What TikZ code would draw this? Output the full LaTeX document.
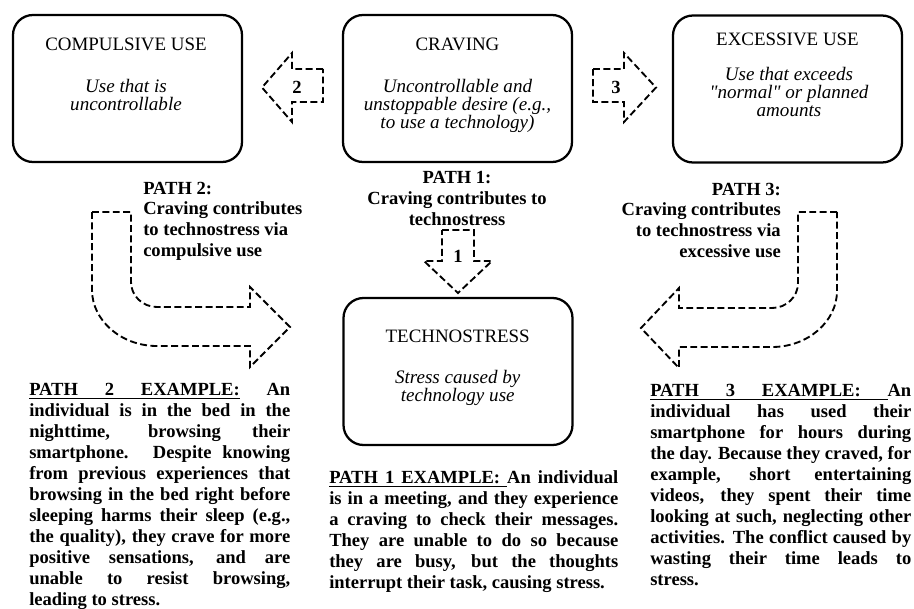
\documentclass[tikz,border=0pt]{standalone}
\usepackage{fontspec}
\setmainfont{Liberation Serif}
% same face without the TeX input mapping, for straight double quotes
\newfontfamily\qfont{Liberation Serif}

% width of the current example paragraph
\newlength\exw
% underlined word, underlined stretchable space, plain stretchable space
\newcommand\ulw[1]{\setbox0=\hbox{#1}\rlap{\vrule height -2.1pt depth 2.8pt width \wd0}\box0}
\newcommand\ulsp{\leaders\hrule height -2.1pt depth 2.8pt\hskip\fontdimen2\font plus 1fil\relax}
\newcommand\jsp{\hskip\fontdimen2\font plus 1fil\relax}
% one justified line of an example paragraph
\newcommand\jl[1]{\hbox to \exw{#1}}
% stacks of lines whose baseline is that of the first line
\newcommand\Lcol[1]{\vtop{\lineskiplimit=-20pt\halign{##\hfil\cr#1\crcr}}}
\newcommand\Ccol[1]{\vtop{\lineskiplimit=-20pt\halign{\hfil##\hfil\cr#1\crcr}}}
\newcommand\Rcol[1]{\vtop{\lineskiplimit=-20pt\halign{\hfil##\cr#1\crcr}}}
\newcommand\Para[2]{\vtop{\exw=#1\relax\lineskiplimit=-20pt #2}}

\begin{document}
\begin{tikzpicture}[x=0.75pt,y=-0.75pt,
  box/.style={draw, line width=1.7pt, rounded corners=15pt,
    minimum width=171.75pt, minimum height=110.25pt, inner sep=0pt},
  darrow/.style={draw, line width=1.4pt, dash pattern=on 5.2pt off 2.6pt, line join=miter},
  ttl/.style={font=\fontsize{14.2}{16}\selectfont, anchor=base, inner sep=0pt},
  desc/.style={font=\fontsize{14.3}{13.5}\selectfont\itshape, anchor=base, inner sep=0pt},
  lbl/.style={font=\fontsize{13.9}{15.6}\selectfont\bfseries, inner sep=0pt},
  num/.style={font=\fontsize{13.9}{16}\selectfont\bfseries, inner sep=0pt},
  expl/.style={font=\fontsize{13.9}{15.75}\selectfont\bfseries, anchor=base west, inner sep=0pt}]

\useasboundingbox (0,0) rectangle (914,608);

% the four concept boxes
\node[box] (comp) at (127.5,88.5) {};
\node[box] (crav) at (457.5,88.5) {};
\node[box] (exc)  at (787.5,89)   {};
\node[box] (tech) at (458,371.5)  {};

\node[ttl] (compT) at (126,50)  {COMPULSIVE USE};
\node[ttl] (cravT) at (457.5,50) {CRAVING};
\node[ttl] (excT)  at (787.5,45) {EXCESSIVE USE};
\node[ttl] (techT) at (457.7,342) {TECHNOSTRESS};

\node[desc] (compD) at (126,92)   {\Ccol{Use that is\cr uncontrollable}};
\node[desc] (cravD) at (457.5,92) {\Ccol{Uncontrollable and\cr unstoppable desire (e.g.,\cr to use a technology)}};
\node[desc] (excD)  at (789,80)   {\Ccol{Use that exceeds\cr {\qfont"}normal{\qfont"} or planned\cr amounts}};
\node[desc] (techD) at (457.7,383) {\Ccol{Stress caused by\cr technology use}};

% straight block arrows
\draw[darrow] (323,69) -- (292,69) -- (292,53) -- (262,87.5) -- (292,122) -- (292,102) -- (323,102) -- cycle;
\node[num] (n2) at (297,87.5) {2};
\draw[darrow] (593,69) -- (624,69) -- (624,53) -- (656,87.5) -- (624,122) -- (624,102) -- (593,102) -- cycle;
\node[num] (n3) at (616,87.5) {3};
\draw[darrow] (442,230) -- (474,230) -- (474,261) -- (492,261) -- (458,293) -- (424,261) -- (442,261) -- cycle;
\node[num] (n1) at (458,256) {1};

% bent block arrows
\draw[darrow] (92,212) -- (131,212) -- (131,282)
  .. controls (131,295.8) and (142.6,307) .. (157,307)
  -- (250,307) -- (250,287) -- (290,327) -- (250,367) -- (250,346) -- (157,346)
  .. controls (121.1,346) and (92,320.4) .. (92,290) -- cycle;
\draw[darrow] (837,212) -- (798,212) -- (798,283)
  .. controls (798,296.8) and (786.4,308) .. (772,308)
  -- (679,308) -- (679,288) -- (641,328) -- (679,368) -- (679,347) -- (772,347)
  .. controls (807.9,347) and (837,321.4) .. (837,291) -- cycle;

% path labels
\node[lbl, anchor=base west] (l2) at (143,194)
  {\Lcol{PATH 2:\cr Craving contributes\cr to technostress via\cr compulsive use}};
\node[lbl, anchor=base] (l1) at (457,183.5)
  {\Ccol{PATH 1:\cr Craving contributes to\cr technostress}};
\node[lbl, anchor=base east] (l3) at (781,195)
  {\Rcol{PATH 3:\cr Craving contributes\cr to technostress via\cr excessive use}};

% example paragraphs
\node[expl] (e2) at (29,395) {\Para{195.75pt}{%
  \jl{\ulw{PATH}\ulsp\ulw{2}\ulsp\ulw{EXAMPLE:}\jsp An}
  \jl{individual is in the bed in the}
  \jl{nighttime, browsing their}
  \jl{smartphone. Despite knowing}
  \jl{from previous experiences that}
  \jl{browsing in the bed right before}
  \jl{sleeping harms their sleep (e.g.,}
  \jl{the quality), they crave for more}
  \jl{positive sensations, and are}
  \jl{unable to resist browsing,}
  \hbox{leading to stress.}}};

\node[expl] (e1) at (329,483) {\Para{216.75pt}{%
  \jl{\ulw{PATH}\ulsp\ulw{1}\ulsp\ulw{EXAMPLE:}\ulsp An\jsp individual}
  \jl{is in a meeting, and they experience}
  \jl{a craving to check their messages.}
  \jl{They are unable to do so because}
  \jl{they are busy, but the thoughts}
  \hbox{interrupt their task, causing stress.}}};

\node[expl] (e3) at (650,396) {\Para{195.75pt}{%
  \jl{\ulw{PATH}\ulsp\ulw{3}\ulsp\ulw{EXAMPLE:}\ulsp An}
  \jl{individual has used their}
  \jl{smartphone for hours during}
  \jl{the day. Because they craved, for}
  \jl{example, short entertaining}
  \jl{videos, they spent their time}
  \jl{looking at such, neglecting other}
  \jl{activities. The conflict caused by}
  \jl{wasting their time leads to}
  \hbox{stress.}}};
\end{tikzpicture}
\end{document}
